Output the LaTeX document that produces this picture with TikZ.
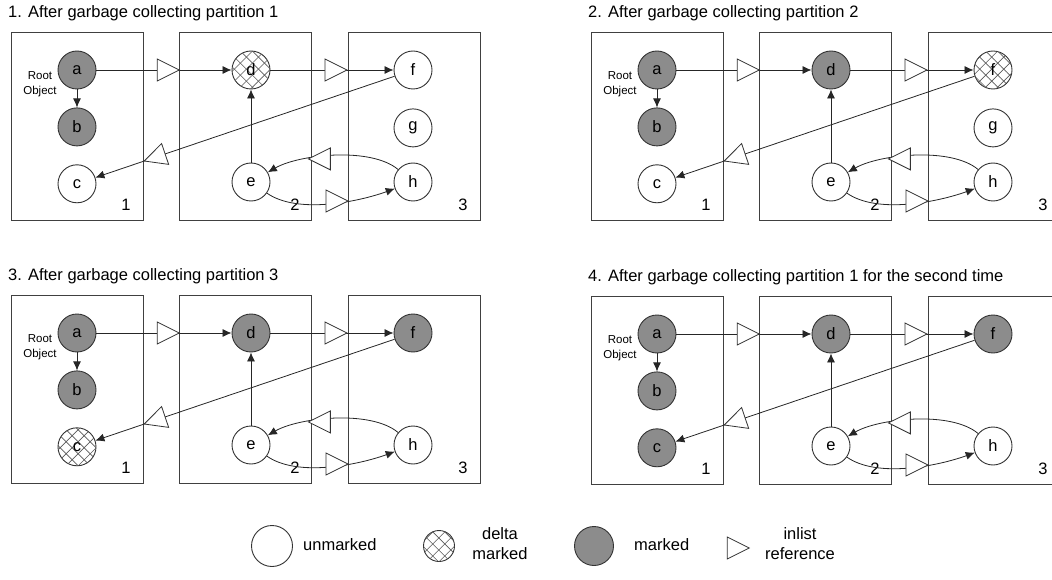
\documentclass[tikz,border=0pt]{standalone}
\usepackage{fontspec}
\setmainfont{Liberation Sans}
\usetikzlibrary{arrows.meta,positioning,shapes.geometric,patterns.meta}
\tikzset{
  font=\fontsize{16.5}{20}\selectfont,
  part/.style={
    draw=black!75,
    line width=0.9pt,
    minimum width=132pt,
    minimum height=188pt,
    inner sep=0pt
  },
  obj/.style={
    circle,
    draw=black!80,
    line width=0.9pt,
    fill=white,
    minimum size=38pt,
    inner sep=0pt
  },
  marked/.style={obj, fill=black!45},
  delta/.style={
    obj,
    postaction={pattern={Lines[angle=45,distance=8.5pt,line width=0.6pt]}, pattern color=black!65},
    postaction={pattern={Lines[angle=-45,distance=8.5pt,line width=0.6pt]}, pattern color=black!65}
  },
  inlist/.style={
    isosceles triangle,
    isosceles triangle stretches,
    draw=black!80,
    fill=white,
    line width=0.8pt,
    minimum width=22pt,
    minimum height=22pt,
    inner sep=0pt,
    anchor=apex
  },
  ref/.style={-{Latex[length=9pt,width=8pt]}, line width=0.8pt, black!85},
  title/.style={anchor=west, inner sep=0pt},
  rootlabel/.style={font=\fontsize{11.5}{15}\selectfont, align=center, inner sep=0pt}
}

% one snapshot: #1 id, #2 shift, #3 title, #4 style of c, #5 style of d, #6 style of f
\newcommand{\gcpanel}[6]{%
  \begin{scope}[shift={#2}]
    \node[title] (#1title) at (8,13) {#3};
    % partitions
    \node[part] (#1p1) at (77,126) {};
    \node[part] (#1p2) at (245.5,126) {};
    \node[part] (#1p3) at (414,126) {};
    \node (#1n1) at (126,205) {1};
    \node (#1n2) at (295,205) {2};
    \node (#1n3) at (463,205) {3};
    % objects
    \node[marked] (#1a) at (77,70) {a};
    \node[marked, below=18pt of #1a] (#1b) {b};
    \node[#4, below=18pt of #1b] (#1c) {c};
    \node[#5] (#1d) at (251,70) {d};
    \node[obj] (#1e) at (251,182) {e};
    \node[#6] (#1f) at (413,70) {f};
    \node[obj] (#1h) at (413,182) {h};
    \node[rootlabel] (#1root) at (40,84) {Root\\Object};
    % references
    \draw[ref] (#1a) -- (#1b);
    \draw[ref] (#1e) -- (#1d);
    \draw[ref] (#1a) -- node[inlist, pos=0.62] (#1ad) {} (#1d);
    \draw[ref] (#1d) -- node[inlist, pos=0.63] (#1df) {} (#1f);
    \draw[ref] (#1f) -- node[inlist, sloped, allow upside down, pos=0.84] (#1fc) {} (#1c);
    \draw[ref] (#1e) to[out=-35, in=200, looseness=0.75] node[inlist, pos=0.64] (#1eh) {} (#1h);
    \draw[ref] (#1h) to[out=140, in=30, looseness=0.7] node[inlist, shape border rotate=180, pos=0.68] (#1he) {} (#1e);
  \end{scope}
}

\begin{document}
\begin{tikzpicture}[x=1pt, y=-1pt]
\useasboundingbox (0,0) rectangle (1052,580);
\clip (0,0) rectangle (1052,580);

\gcpanel{1}{(0,0)}{1. After garbage collecting partition 1}{obj}{delta}{obj}
\node[obj, below=19pt of 1f] (1g) {g};

\gcpanel{2}{(580,0)}{2. After garbage collecting partition 2}{obj}{marked}{delta}
\node[obj, below=19pt of 2f] (2g) {g};

\gcpanel{3}{(0,263)}{3. After garbage collecting partition 3}{delta}{marked}{marked}

\gcpanel{4}{(580,264)}{4. After garbage collecting partition 1 for the second time}{marked}{marked}{marked}

% key
\node[obj, minimum size=41pt] (keyun) at (272,546) {};
\node[anchor=west, inner sep=0pt] (keyuntext) at (303,545) {unmarked};
\node[delta, minimum size=31pt] (keydelta) at (439,546) {};
\node[align=center, inner sep=0pt] (keydeltatext) at (500,544) {delta\\marked};
\node[marked, minimum size=39pt] (keymarked) at (594,546) {};
\node[anchor=west, inner sep=0pt] (keymarkedtext) at (634,545) {marked};
\node[inlist, anchor=center] (keyinlist) at (734,548) {};
\node[align=center, inner sep=0pt] (keyinlisttext) at (800,544) {inlist\\reference};

\end{tikzpicture}
\end{document}
